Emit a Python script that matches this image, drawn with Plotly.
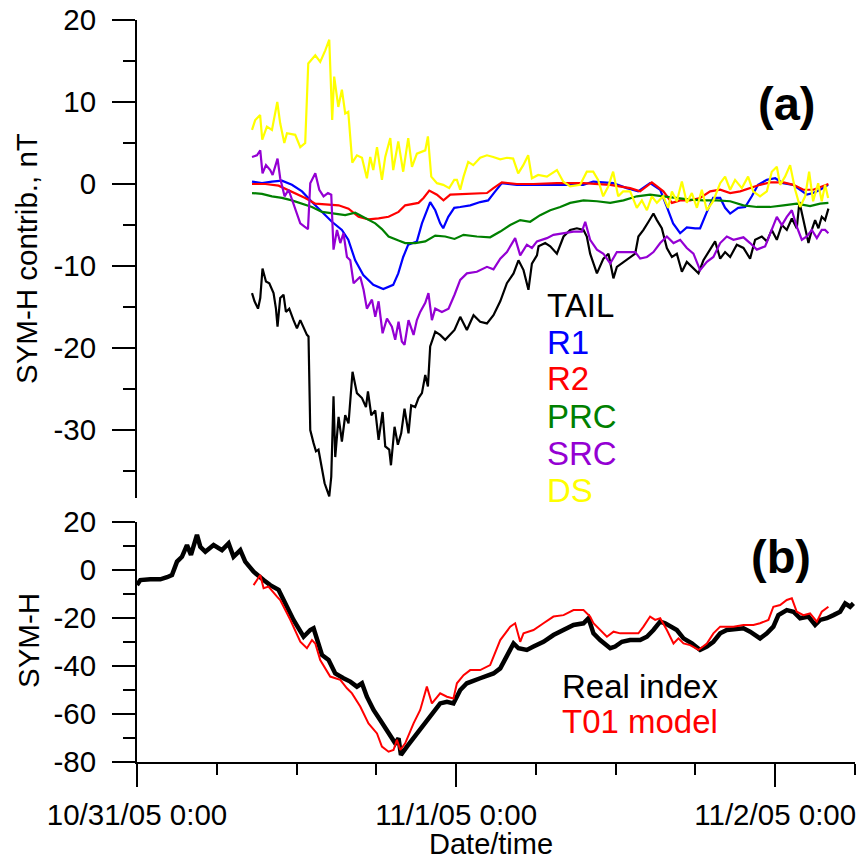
import pandas as pd
import plotly.graph_objects as go

BASE = pd.Timestamp("2005-10-31 00:00")

# ---------------- Panel (a): SYM-H contributions (hours since 10/31/05 0:00, nT)
tail_h = [8.65, 8.84, 9.10, 9.27, 9.44, 9.70, 9.95, 10.27, 10.45, 10.57, 10.77, 11.02, 11.20, 11.45, 11.77,
          12.03, 12.28, 12.53, 12.78, 12.90, 13.03, 13.28, 13.46, 13.65, 13.86, 14.11, 14.46, 14.61, 14.78,
          14.91, 15.16, 15.41, 15.66, 15.91, 16.21, 16.54, 16.92, 17.22, 17.37, 17.62, 17.92, 18.17, 18.47,
          18.67, 18.97, 19.10, 19.37, 19.62, 19.87, 20.12, 20.42, 20.62, 20.92, 21.17, 21.43, 21.68, 21.88,
          22.05, 22.43, 22.80, 23.18, 23.56, 23.88, 24.31, 24.81, 25.31, 25.81, 26.32, 26.81, 27.32, 27.82,
          28.32, 28.69, 29.07, 29.44, 29.70, 30.08, 30.20, 30.70, 31.08, 31.58, 32.08, 32.58, 33.08, 33.58,
          33.83, 34.08, 34.59, 35.08, 35.46, 35.83, 36.09, 37.47, 37.71, 38.09, 38.47, 38.84, 39.10, 39.47,
          39.85, 40.23, 40.60, 40.98, 41.35, 41.73, 42.23, 42.60, 43.11, 43.48, 43.86, 44.23, 44.61, 45.11,
          45.61, 46.11, 46.49, 46.99, 47.37, 47.74, 48.12, 48.50, 48.87, 49.25, 49.62, 49.82, 50.12, 50.50,
          50.75, 51.00, 51.25, 51.50, 51.75, 52.00]
tail_v = [-13.3, -14.3, -15.2, -13.9, -10.3, -11.9, -12.1, -13.3, -15.2, -17.4, -13.9, -13.5, -15.6, -15.2, -16.6,
          -17.6, -16.6, -17.6, -18.4, -18.6, -30.0, -31.6, -32.6, -32.4, -34.5, -36.5, -38.1, -35.7, -25.9,
          -33.3, -28.4, -31.4, -28.2, -29.2, -22.9, -25.5, -26.1, -27.2, -25.3, -28.2, -27.6, -31.2, -27.8,
          -32.0, -32.4, -34.3, -29.6, -31.8, -30.4, -27.4, -30.4, -27.0, -27.2, -26.1, -25.5, -23.3, -24.7,
          -19.8, -18.0, -18.4, -19.0, -18.4, -17.8, -16.2, -17.8, -16.0, -16.8, -17.0, -16.0, -14.3, -12.1,
          -10.9, -9.3, -10.5, -12.9, -9.7, -8.7, -7.6, -7.2, -7.6, -8.5, -6.4, -5.6, -5.4, -5.6,
          -6.4, -8.5, -10.9, -9.1, -8.5, -11.5, -10.1, -8.5, -6.4, -5.6, -4.6, -3.6, -4.4, -5.4,
          -7.8, -8.9, -8.5, -10.7, -9.5, -10.1, -10.9, -9.3, -8.0, -7.0, -9.1, -8.3, -8.9, -7.4,
          -7.8, -9.1, -6.8, -6.4, -7.0, -5.6, -6.8, -5.0, -5.6, -4.2, -5.4, -2.2, -4.4, -7.2,
          -5.6, -4.4, -5.4, -4.0, -4.4, -3.0]

r1_h = [8.65, 9.40, 10.15, 10.90, 11.65, 12.41, 13.16, 13.91, 14.66, 15.41, 15.89, 16.41, 17.02, 17.77, 18.52,
        19.27, 19.65, 20.02, 20.40, 21.05, 21.43, 22.05, 22.43, 22.80, 23.03, 23.41, 23.86, 24.31, 25.06,
        25.81, 26.41, 26.94, 27.44, 28.57, 30.08, 31.58, 33.56, 34.31, 35.81, 36.84, 37.69, 38.59, 39.35,
        39.85, 40.32, 40.85, 41.35, 41.98, 42.35, 42.86, 43.33, 43.86, 44.23, 44.61, 45.21, 45.74, 46.24,
        46.71, 47.37, 48.00, 48.59, 49.35, 49.87, 50.38, 50.85, 51.38, 51.98]
r1_v = [0.3, 0.1, 0.3, 0.4, -0.1, -0.9, -2.2, -3.4, -4.6, -5.6, -6.8, -9.3, -11.1, -12.3, -12.8,
        -12.3, -10.9, -8.9, -7.4, -7.0, -4.8, -2.2, -3.2, -4.8, -5.4, -4.0, -2.9, -2.8, -2.6,
        -2.2, -2.0, -0.9, 0.1, -0.1, -0.1, -0.1, -0.1, 0.3, 0.1, -0.5, -0.9, 0.1, -0.7,
        -2.8, -4.8, -6.0, -5.3, -5.4, -5.4, -3.4, -1.7, -1.7, -2.9, -3.6, -2.9, -2.8, -1.5,
        -0.1, 0.5, 0.7, 0.1, -0.1, -0.7, -1.3, -1.1, -0.7, -0.1]

r2_h = [8.65, 9.65, 10.65, 11.65, 12.65, 13.41, 14.16, 15.16, 15.91, 16.66, 17.41, 18.17, 18.92, 19.67, 20.17,
        21.17, 21.55, 21.98, 22.56, 23.05, 23.56, 25.06, 26.32, 26.81, 27.44, 28.57, 29.82, 31.58, 33.58,
        35.59, 37.09, 37.84, 38.72, 39.59, 40.23, 40.85, 41.60, 42.35, 43.11, 43.86, 44.61, 45.36, 46.11,
        46.86, 47.62, 48.62, 49.37, 50.12, 50.87, 51.50, 52.00]
r2_v = [0.0, 0.0, -0.2, -0.9, -1.7, -2.4, -2.5, -2.6, -3.0, -4.0, -4.3, -4.2, -4.0, -3.4, -2.6,
        -2.3, -1.7, -0.8, -1.3, -2.0, -1.3, -1.2, -1.1, -0.5, 0.2, 0.0, 0.0, 0.1, 0.1,
        -0.1, -0.5, -0.9, 0.2, -0.9, -2.3, -2.0, -2.0, -1.7, -0.9, -0.7, -1.1, -0.9, -0.5,
        -0.1, 0.2, 0.2, -0.1, -0.7, -0.7, -0.3, 0.0]

prc_h = [8.65, 9.40, 10.15, 10.90, 11.65, 12.41, 13.16, 13.91, 14.66, 15.66, 16.41, 17.17, 17.92, 18.42, 18.92,
         19.67, 20.17, 20.92, 21.68, 22.43, 23.18, 23.88, 24.56, 25.56, 26.56, 27.32, 28.07, 28.82, 29.57,
         30.32, 31.08, 31.83, 32.58, 33.58, 34.59, 35.59, 36.59, 37.59, 38.59, 39.59, 40.60, 41.60, 42.60,
         43.61, 44.61, 45.61, 46.62, 47.62, 48.62, 49.62, 50.62, 51.38, 52.00]
prc_v = [-1.1, -1.2, -1.5, -1.7, -2.0, -2.4, -2.8, -3.4, -3.6, -3.8, -3.5, -4.2, -4.8, -5.5, -6.4,
         -6.9, -7.2, -7.2, -7.0, -6.3, -6.4, -6.7, -6.2, -6.4, -6.5, -5.8, -5.0, -4.4, -4.6,
         -3.8, -3.2, -2.8, -2.3, -2.0, -2.1, -2.3, -2.0, -1.5, -1.3, -1.5, -1.7, -1.9, -2.0,
         -2.0, -2.1, -2.6, -2.8, -2.8, -2.6, -2.4, -2.7, -2.4, -2.3]

src_h = [8.65, 9.02, 9.27, 9.44, 9.70, 10.02, 10.20, 10.57, 10.77, 11.10, 11.40, 11.77, 12.03, 12.28, 12.60,
         12.86, 13.03, 13.41, 13.71, 14.03, 14.36, 14.61, 14.78, 15.04, 15.29, 15.53, 15.79, 16.04, 16.29,
         16.79, 17.04, 17.29, 17.67, 17.92, 18.17, 18.47, 18.80, 19.17, 19.42, 19.67, 19.92, 20.12, 20.42,
         20.80, 21.05, 21.30, 21.68, 21.92, 22.18, 22.43, 22.93, 23.43, 23.88, 24.31, 24.81, 25.56, 26.32,
         26.81, 27.32, 27.82, 28.44, 28.82, 29.32, 29.70, 30.08, 30.83, 31.32, 32.08, 32.83, 33.46, 33.71,
         34.08, 34.59, 35.08, 35.59, 36.09, 37.47, 37.84, 38.35, 38.84, 39.35, 39.85, 40.35, 40.85, 41.35,
         41.85, 42.35, 42.86, 43.35, 43.86, 44.36, 44.86, 45.61, 46.11, 46.62, 47.24, 47.74, 48.12, 48.50,
         48.87, 49.25, 49.62, 50.00, 50.38, 50.75, 51.13, 51.50, 51.75, 52.00]
src_v = [3.3, 3.5, 4.1, 1.3, 2.3, 1.7, 1.1, 3.1, 0.7, -1.5, -0.7, -2.4, -3.4, -4.8, -5.2,
         -5.5, 0.1, 1.3, -0.7, -1.5, -1.1, -1.3, -8.0, -5.6, -7.2, -6.0, -8.9, -9.3, -12.1,
         -11.3, -12.9, -15.2, -14.1, -16.2, -14.3, -18.2, -16.4, -17.4, -19.0, -16.8, -19.2, -19.6, -16.6,
         -18.4, -16.6, -15.6, -14.5, -13.3, -16.6, -15.2, -15.6, -15.2, -13.5, -11.7, -10.9, -10.7, -10.1,
         -10.4, -9.1, -8.3, -6.6, -8.7, -7.4, -7.8, -7.0, -6.6, -6.2, -6.0, -5.8, -5.8, -4.6,
         -6.8, -8.0, -8.5, -9.7, -8.3, -8.3, -9.1, -8.9, -8.3, -7.2, -6.4, -7.2, -6.8, -7.8,
         -8.5, -10.5, -9.5, -8.9, -7.2, -6.4, -6.8, -6.5, -7.2, -8.0, -7.6, -5.6, -4.0, -5.0,
         -4.0, -3.2, -5.2, -6.8, -6.4, -5.6, -6.6, -5.6, -5.6, -6.0]

ds_h = [8.65, 8.89, 9.26, 9.42, 9.77, 10.15, 10.55, 10.77, 11.08, 11.28, 11.90, 12.28, 12.65, 12.88, 13.41,
        13.78, 14.16, 14.46, 14.68, 14.83, 15.14, 15.41, 15.66, 15.89, 16.19, 16.54, 16.92, 17.29, 17.54,
        17.77, 18.05, 18.42, 18.67, 19.05, 19.27, 19.65, 20.02, 20.40, 20.68, 21.05, 21.68, 21.88, 22.13,
        22.56, 23.03, 23.48, 23.86, 24.06, 24.31, 24.56, 24.91, 25.29, 25.81, 26.32, 26.79, 27.32, 27.82,
        28.29, 28.67, 29.05, 29.42, 29.70, 30.17, 30.83, 31.58, 32.05, 32.58, 33.33, 33.83, 34.31, 34.68,
        35.06, 35.44, 35.81, 36.19, 36.56, 37.09, 37.59, 37.97, 38.35, 38.72, 39.10, 39.57, 39.95, 40.23,
        40.60, 40.98, 41.35, 41.73, 42.11, 42.48, 42.86, 43.33, 43.86, 44.23, 44.61, 44.98, 45.49, 45.96,
        46.34, 46.86, 47.37, 47.74, 48.12, 48.37, 48.74, 49.12, 49.50, 49.87, 50.25, 50.55, 50.85, 51.23,
        51.50, 51.75, 51.98]
ds_v = [6.6, 7.8, 8.4, 5.4, 7.0, 6.6, 10.0, 7.4, 5.0, 6.2, 6.0, 4.5, 5.0, 14.7, 15.7,
        14.9, 16.3, 17.6, 7.8, 13.1, 9.4, 11.5, 8.6, 8.8, 2.6, 3.5, 3.2, 0.7, 3.3,
        1.7, 4.5, 0.5, 3.3, 5.6, 1.7, 5.2, 1.5, 5.6, 2.1, 3.7, 4.1, 5.8, 0.9,
        0.1, -0.1, -0.5, 0.5, 0.5, -0.7, 0.9, 2.7, 2.3, 3.2, 3.5, 3.3, 3.0, 3.2,
        3.1, 1.3, 2.3, 3.5, 0.7, 1.1, 0.9, 1.7, 0.3, -0.3, -0.1, 1.5, 1.5, 0.5,
        -1.5, -0.3, 1.5, -1.5, -0.9, -0.9, -2.9, -2.0, -3.2, -1.5, -2.3, -1.5, -2.9, -0.9,
        -2.1, 0.3, -2.3, -1.1, -2.9, -0.7, -3.2, -2.1, 0.1, 0.9, -0.7, 0.5, -0.5, 0.9,
        -0.9, -1.5, -0.9, 1.5, 2.1, -0.1, 0.9, 2.3, -0.7, -2.8, -1.5, 1.5, -2.1, 0.1,
        -2.1, -0.1, -1.7]

# ---------------- Panel (b): SYM-H index
real_h = [0.00, 0.25, 1.00, 1.75, 2.26, 2.63, 3.01, 3.38, 3.76, 4.06, 4.51, 4.76, 5.14, 5.76, 6.39,
          6.89, 7.26, 7.77, 8.14, 8.77, 9.52, 10.02, 10.65, 11.15, 11.77, 12.53, 13.03, 13.28, 13.53,
          13.91, 14.41, 14.91, 15.53, 16.04, 16.54, 16.92, 17.29, 17.79, 18.29, 18.80, 19.17, 19.42, 19.67,
          19.85, 20.30, 20.80, 21.30, 21.80, 22.30, 22.80, 23.31, 23.80, 24.31, 24.81, 25.81, 26.81, 27.32,
          27.82, 28.32, 28.69, 29.32, 29.82, 30.57, 31.32, 32.33, 32.83, 33.58, 33.96, 34.33, 34.83, 35.59,
          35.96, 36.47, 37.09, 37.84, 38.35, 38.84, 39.35, 39.72, 40.10, 40.60, 41.10, 41.73, 42.35, 42.86,
          43.35, 43.86, 44.36, 45.11, 45.61, 46.11, 46.86, 47.37, 47.86, 48.24, 48.87, 49.37, 49.87, 50.50,
          51.00, 51.38, 51.88, 52.38, 52.88, 53.26, 53.63, 53.88]
real_v = [-6.3, -4.2, -3.9, -3.9, -3.0, -2.1, 3.5, 5.5, 10.4, 6.3, 14.6, 9.7, 7.6, 10.4, 8.3,
          11.1, 5.5, 8.3, 3.5, -0.7, -4.2, -6.3, -8.3, -13.9, -20.8, -27.8, -25.0, -24.3, -28.5,
          -35.4, -37.5, -43.1, -45.1, -46.5, -48.6, -47.2, -52.8, -58.3, -62.5, -66.7, -70.1, -72.2, -70.1,
          -77.1, -73.6, -70.1, -66.7, -62.5, -59.0, -55.6, -54.9, -55.6, -50.0, -47.2, -45.1, -43.1, -41.0,
          -36.1, -30.6, -32.6, -33.3, -31.9, -29.9, -27.1, -24.3, -22.9, -22.2, -20.1, -26.4, -29.2, -32.6,
          -31.9, -29.9, -29.2, -29.2, -27.8, -25.0, -21.5, -22.2, -23.6, -25.0, -28.5, -30.6, -33.3, -31.9,
          -29.9, -26.4, -25.0, -24.3, -24.3, -25.7, -28.5, -26.4, -23.6, -18.8, -16.7, -17.4, -20.1, -19.4,
          -22.9, -20.8, -20.1, -18.8, -17.4, -13.9, -15.3, -13.9]

t01_h = [8.77, 9.27, 9.52, 9.89, 10.53, 10.77, 11.28, 11.53, 12.28, 12.78, 13.16, 13.41, 13.78, 14.53, 15.29,
         15.79, 16.17, 16.79, 17.41, 18.05, 18.42, 18.92, 19.29, 19.55, 19.80, 20.17, 20.80, 21.30, 21.80,
         22.18, 22.80, 23.31, 23.80, 24.06, 24.56, 25.06, 25.81, 26.56, 27.32, 28.07, 28.44, 28.82, 29.07,
         29.82, 30.57, 31.32, 32.08, 32.83, 33.58, 34.08, 34.33, 34.83, 35.34, 35.84, 36.34, 37.71, 38.09,
         38.59, 38.97, 39.35, 39.85, 40.35, 40.72, 41.10, 41.60, 42.23, 42.86, 43.35, 43.86, 44.86, 45.61,
         46.36, 46.86, 47.49, 47.86, 48.37, 48.87, 49.25, 49.62, 50.12, 50.62, 51.13, 51.50, 52.00]
t01_v = [-6.3, -2.1, -7.6, -6.9, -11.1, -12.5, -18.0, -20.8, -29.9, -32.6, -29.2, -30.6, -37.5, -44.4, -45.8,
         -49.3, -51.4, -56.9, -63.9, -68.1, -73.6, -75.7, -75.0, -70.8, -75.0, -72.2, -63.9, -58.3, -48.6,
         -55.6, -51.4, -52.8, -53.5, -47.2, -43.8, -41.7, -41.7, -39.6, -29.2, -23.6, -22.2, -29.9, -26.4,
         -25.0, -22.2, -19.4, -18.8, -16.7, -16.7, -19.4, -22.2, -25.0, -27.8, -25.7, -26.4, -26.4, -23.6,
         -19.4, -20.8, -20.1, -25.0, -30.6, -28.5, -30.6, -31.3, -33.3, -30.6, -26.4, -23.6, -23.6, -22.9,
         -22.9, -22.2, -20.8, -15.3, -14.6, -12.5, -11.8, -17.4, -18.8, -18.1, -21.5, -17.4, -15.3]

# axis ticks
x_tick_hours = [0, 24, 48]
x_tick_text = ["10/31/05 0:00", "11/1/05 0:00", "11/2/05 0:00"]
x_end_hours = 54
ya_ticks = [-30, -20, -10, 0, 10, 20]
yb_ticks = [-80, -60, -40, -20, 0, 20]

FONT = "Liberation Sans, Arial, sans-serif"
W = H = 861


def t(hours):
    return [BASE + pd.Timedelta(hours=h) for h in hours]


def px(v):  # horizontal pixel -> paper fraction
    return v / W


def py(v):  # vertical pixel -> paper fraction
    return 1 - v / H


fig = go.Figure()

top = [
    ("TAIL", tail_h, tail_v, "#000000"),
    ("R1", r1_h, r1_v, "#0000FF"),
    ("R2", r2_h, r2_v, "#FF0000"),
    ("PRC", prc_h, prc_v, "#008000"),
    ("SRC", src_h, src_v, "#9400D3"),
    ("DS", ds_h, ds_v, "#FFFF00"),
]
for name, hh, vv, col in top:
    fig.add_trace(go.Scatter(x=t(hh), y=vv, mode="lines", name=name,
                             line=dict(color=col, width=2.2), xaxis="x2", yaxis="y2"))

fig.add_trace(go.Scatter(x=t(real_h), y=real_v, mode="lines", name="Real index",
                         line=dict(color="#000000", width=4.5), xaxis="x", yaxis="y"))
fig.add_trace(go.Scatter(x=t(t01_h), y=t01_v, mode="lines", name="T01 model",
                         line=dict(color="#FF0000", width=2), xaxis="x", yaxis="y"))

xrange = [BASE, BASE + pd.Timedelta(hours=x_end_hours)]
xdom = [px(137), px(855)]
tickfont = dict(family=FONT, size=29.5, color="black")

fig.update_layout(
    width=W, height=H,
    margin=dict(l=0, r=0, t=0, b=0, pad=0, autoexpand=False),
    paper_bgcolor="white", plot_bgcolor="white",
    showlegend=False,
    font=dict(family=FONT, color="black"),
    xaxis=dict(
        domain=xdom, range=xrange, type="date", anchor="y", automargin=False,
        tickmode="array", tickvals=t(x_tick_hours), ticktext=x_tick_text,
        ticks="outside", ticklen=23, tickwidth=2, tickcolor="black",
        minor=dict(dtick=6 * 3600 * 1000, tick0=BASE, ticks="outside", ticklen=11,
                   tickwidth=2, tickcolor="black", showgrid=False),
        showline=True, linewidth=2, linecolor="black", showgrid=False, zeroline=False,
        tickfont=tickfont, ticklabelstandoff=3,
    ),
    yaxis=dict(
        domain=[py(762), py(522)], range=[-80, 20], anchor="x", automargin=False,
        tickmode="array", tickvals=yb_ticks, ticktext=[str(v) for v in yb_ticks],
        ticks="outside", ticklen=23, tickwidth=2, tickcolor="black",
        minor=dict(dtick=10, tick0=0, ticks="outside", ticklen=12, tickwidth=2,
                   tickcolor="black", showgrid=False),
        showline=True, linewidth=2, linecolor="black", showgrid=False, zeroline=False,
        tickfont=tickfont, ticklabelstandoff=10,
    ),
    xaxis2=dict(
        domain=xdom, range=xrange, type="date", anchor="y2", visible=False, automargin=False,
    ),
    yaxis2=dict(
        domain=[py(497.5), py(20)], range=[-38.23, 20], anchor="x2", automargin=False,
        tickmode="array", tickvals=ya_ticks, ticktext=[str(v) for v in ya_ticks],
        ticks="outside", ticklen=23, tickwidth=2, tickcolor="black",
        minor=dict(dtick=5, tick0=0, ticks="outside", ticklen=12, tickwidth=2,
                   tickcolor="black", showgrid=False),
        showline=True, linewidth=2, linecolor="black", showgrid=False, zeroline=False,
        tickfont=tickfont, ticklabelstandoff=10,
    ),
)

ann = []
# axis titles
ann.append(dict(text="SYM-H contrib., nT", x=px(26), y=py(259), textangle=-90,
                font=dict(family=FONT, size=29.5, color="black")))
ann.append(dict(text="SYM-H", x=px(28), y=py(641), textangle=-90,
                font=dict(family=FONT, size=29.5, color="black")))
ann.append(dict(text="Date/time", x=px(491), y=0, yanchor="bottom", borderpad=0,
                font=dict(family=FONT, size=29, color="black")))
# panel labels
ann.append(dict(text="<b>(a)</b>", x=px(786), y=py(103), font=dict(family=FONT, size=47, color="black")))
ann.append(dict(text="<b>(b)</b>", x=px(781), y=py(556), font=dict(family=FONT, size=47, color="black")))
# in-plot legends
legend_y = [305, 342, 379, 416, 453, 490]
for (name, _, _, col), yy in zip(top, legend_y):
    ann.append(dict(text=name, x=px(545), y=py(yy), xanchor="left",
                    font=dict(family=FONT, size=33, color=col)))
ann.append(dict(text="Real index", x=px(560), y=py(686), xanchor="left",
                font=dict(family=FONT, size=33, color="black")))
ann.append(dict(text="T01 model", x=px(560), y=py(721), xanchor="left",
                font=dict(family=FONT, size=33, color="#FF0000")))

for a in ann:
    a.setdefault("xanchor", "center")
    a.setdefault("yanchor", "middle")
    a.update(xref="paper", yref="paper", showarrow=False)
fig.update_layout(annotations=ann)

fig.write_html("out.html")
